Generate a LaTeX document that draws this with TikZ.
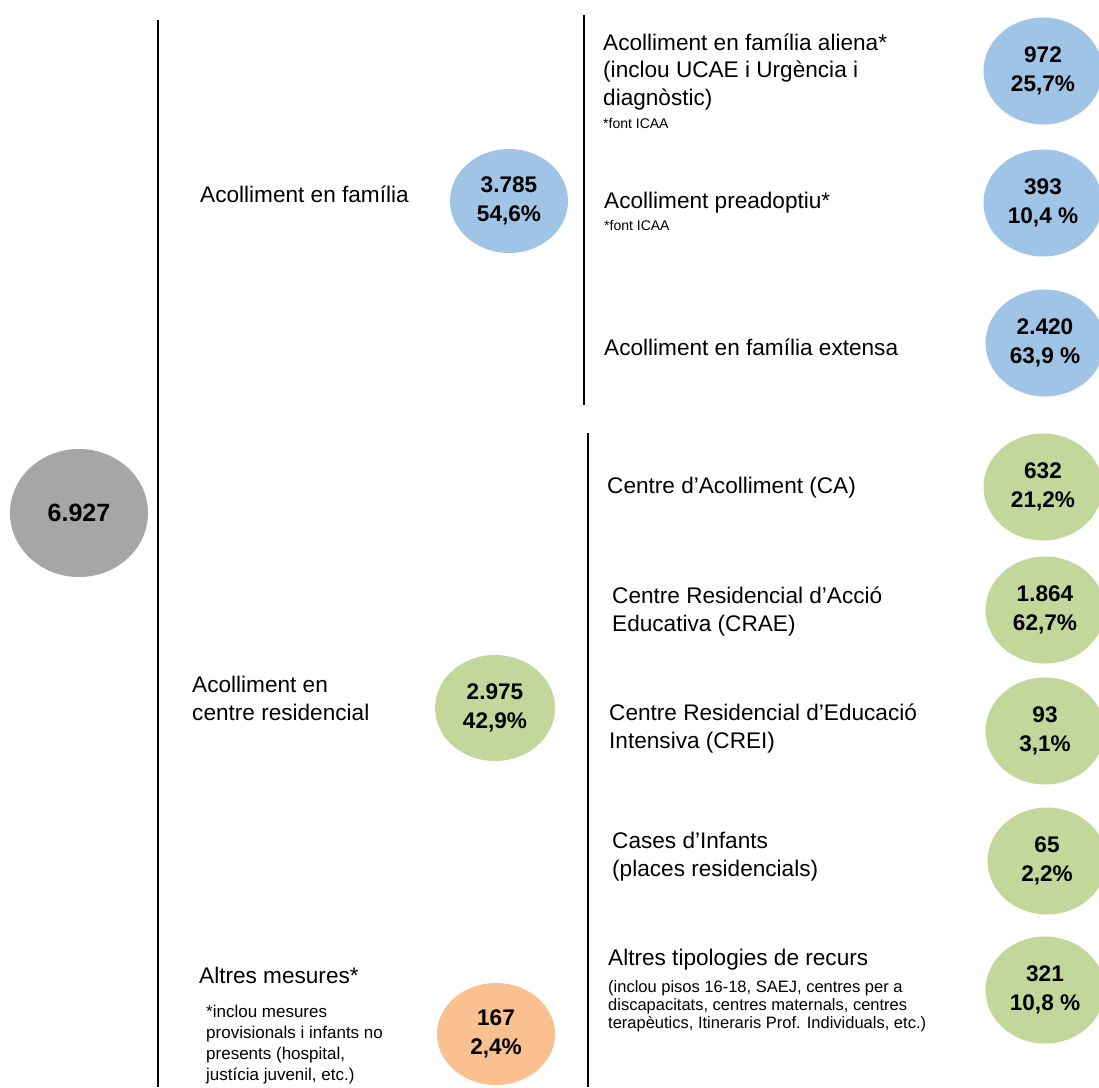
\documentclass[tikz,border=0pt]{standalone}
\usepackage{fontspec}
\setmainfont{Liberation Sans}
\usetikzlibrary{shapes.geometric}
\definecolor{cgray}{RGB}{166,166,166}
\definecolor{cblue}{RGB}{160,196,229}
\definecolor{cgreen}{RGB}{196,215,155}
\definecolor{corange}{RGB}{250,192,144}
\tikzset{
  lbl/.style={anchor=base west, inner sep=0pt, align=left,
    font=\fontsize{22.6}{27.5}\selectfont},
  smalllbl/.style={anchor=base west, inner sep=0pt, align=left,
    font=\fontsize{16.5}{17.6}\selectfont},
  noteb/.style={anchor=base west, inner sep=0pt, align=left,
    font=\fontsize{17}{21}\selectfont},
  tiny/.style={anchor=base west, inner sep=0pt,
    font=\fontsize{14}{16}\selectfont},
  bubble/.style={ellipse, inner sep=0pt, align=center,
    minimum width=119pt, minimum height=107pt,
    font=\fontsize{22.6}{29}\selectfont\bfseries},
  barline/.style={line width=2pt, black},
}
\begin{document}
\begin{tikzpicture}[x=1pt,y=-1pt]
\useasboundingbox[fill=white] (0,0) rectangle (1099,1087);

% vertical bars
\coordinate (b1t) at (158,20);  \coordinate (b1b) at (158,1087);
\coordinate (b2t) at (584,15);  \coordinate (b2b) at (584,405);
\coordinate (b3t) at (588,433); \coordinate (b3b) at (588,1087);
\draw[barline] (b1t) -- (b1b);
\draw[barline] (b2t) -- (b2b);
\draw[barline] (b3t) -- (b3b);

% root
\node[bubble, fill=cgray, minimum width=138pt, minimum height=128pt,
  font=\fontsize{25}{29}\selectfont\bfseries] (root) at (79,513) {6.927};

% middle column (base anchor = baseline of the last line)
\node[lbl] (fam) at (200,202) {Acolliment en família};
\node[bubble, fill=cblue, minimum width=118pt, minimum height=104pt] (famc) at (509,201) {3.785\\54,6\%};

\node[lbl] (res) at (192,720) {Acolliment en\\centre residencial};
\node[bubble, fill=cgreen, minimum width=120pt, minimum height=106pt] (resc) at (495,708) {2.975\\42,9\%};

\node[lbl] (alt) at (199,983) {Altres mesures*};
\node[noteb] (altn) at (206,1080) {*inclou mesures\\provisionals i infants no\\presents (hospital,\\justícia juvenil, etc.)};
\node[bubble, fill=corange, minimum width=118pt, minimum height=102pt] (altc) at (496,1034) {167\\2,4\%};

% right column: family
\node[lbl] (r1) at (603,105) {Acolliment en família aliena*\\(inclou UCAE i Urgència i\\diagnòstic)};
\node[tiny] (r1n) at (603,128) {*font ICAA};
\node[bubble, fill=cblue] (r1c) at (1043,71) {972\\25,7\%};

\node[lbl] (r2) at (604,208) {Acolliment preadoptiu*};
\node[tiny] (r2n) at (604,230) {*font ICAA};
\node[bubble, fill=cblue] (r2c) at (1043,203) {393\\10,4 \%};

\node[lbl] (r3) at (604,355) {Acolliment en família extensa};
\node[bubble, fill=cblue] (r3c) at (1045,343) {2.420\\63,9 \%};

% right column: residential
\node[lbl] (s1) at (607,493) {Centre d’Acolliment (CA)};
\node[bubble, fill=cgreen] (s1c) at (1043,487) {632\\21,2\%};

\node[lbl] (s2) at (612,631) {Centre Residencial d’Acció\\Educativa (CRAE)};
\node[bubble, fill=cgreen] (s2c) at (1045,610) {1.864\\62,7\%};

\node[lbl] (s3) at (609,748) {Centre Residencial d’Educació\\Intensiva (CREI)};
\node[bubble, fill=cgreen] (s3c) at (1045,731) {93\\3,1\%};

\node[lbl] (s4) at (612,876) {Cases d’Infants\\(places residencials)};
\node[bubble, fill=cgreen] (s4c) at (1047,861) {65\\2,2\%};

\node[lbl] (s5) at (608,965) {Altres tipologies de recurs};
\node[smalllbl] (s5n) at (608,1028) {(inclou pisos 16-18, SAEJ, centres per a\\discapacitats, centres maternals, centres\\terapèutics, Itineraris Prof. Individuals, etc.)};
\node[bubble, fill=cgreen] (s5c) at (1045,990) {321\\10,8 \%};
\end{tikzpicture}
\end{document}
